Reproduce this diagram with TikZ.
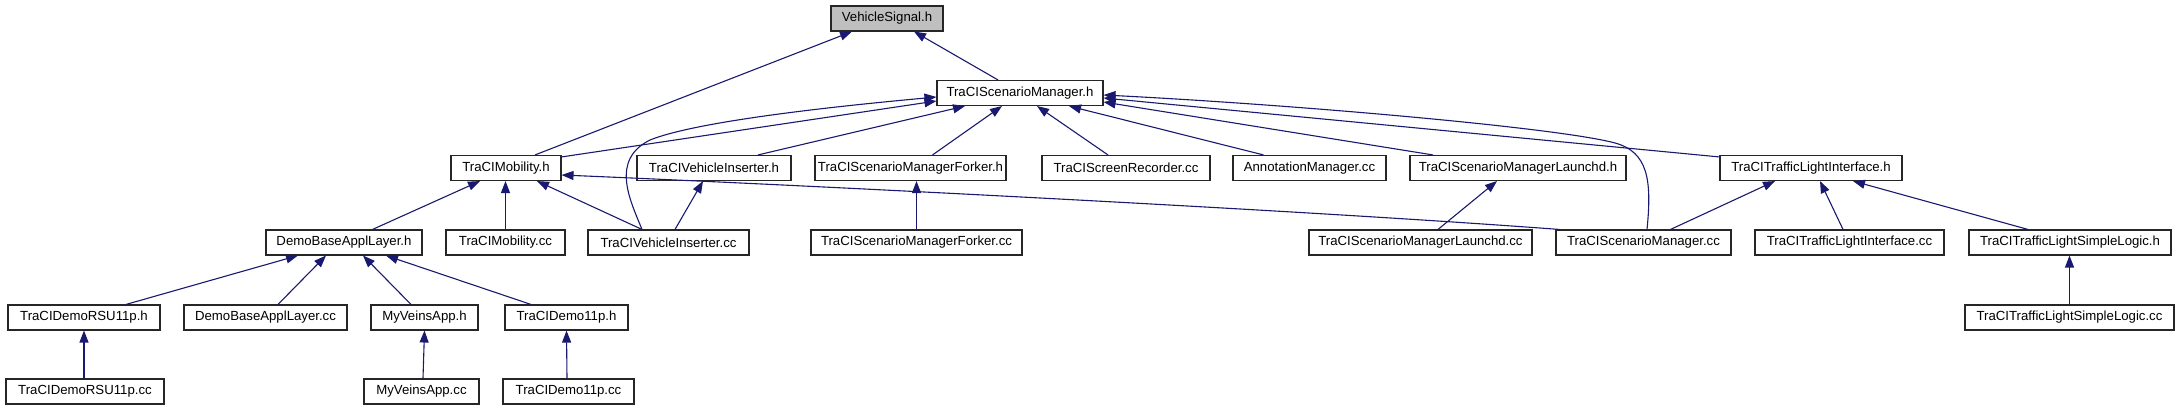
\documentclass[tikz,border=0pt]{standalone}
\usepackage{fontspec}
\setmainfont{Liberation Sans}
\usetikzlibrary{arrows.meta}
\definecolor{edgeblue}{HTML}{191970}
\definecolor{focusgray}{HTML}{BFBFBF}

\begin{document}
\begin{tikzpicture}[
  x=1pt,y=-1pt,
  filebox/.style={draw=black!85,line width=1.1pt,minimum height=25pt,inner sep=0pt,font=\fontsize{13.2}{15}\selectfont},
  focus/.style={filebox,fill=focusgray},
  dep/.style={-{Triangle[length=12pt,width=9pt]},draw=edgeblue,line width=1.1pt},
]
\useasboundingbox[fill=white] (0,0) rectangle (2180,411);

% row 1 and 2
\node[focus,minimum width=112pt] (vsig) at (887,18.5) {VehicleSignal.h};
\node[filebox,minimum width=166pt] (smh) at (1020,93) {TraCIScenarioManager.h};

% row 3
\node[filebox,minimum width=110pt] (mobh) at (506,168) {TraCIMobility.h};
\node[filebox,minimum width=154pt] (insh) at (714,168) {TraCIVehicleInserter.h};
\node[filebox,minimum width=191pt] (forkh) at (910.5,168) {TraCIScenarioManagerForker.h};
\node[filebox,minimum width=168pt] (scrrec) at (1126,168) {TraCIScreenRecorder.cc};
\node[filebox,minimum width=153pt] (annot) at (1309.5,168) {AnnotationManager.cc};
\node[filebox,minimum width=216pt] (lnchh) at (1518,168) {TraCIScenarioManagerLaunchd.h};
\node[filebox,minimum width=182pt] (tlih) at (1811,168) {TraCITrafficLightInterface.h};

% row 4
\node[filebox,minimum width=156pt] (dbalh) at (344,242.5) {DemoBaseApplLayer.h};
\node[filebox,minimum width=119pt] (mobcc) at (505.5,242.5) {TraCIMobility.cc};
\node[filebox,minimum width=161pt] (inscc) at (668.5,242.5) {TraCIVehicleInserter.cc};
\node[filebox,minimum width=211pt] (forkcc) at (916.5,242.5) {TraCIScenarioManagerForker.cc};
\node[filebox,minimum width=223pt] (lnchcc) at (1420.5,242.5) {TraCIScenarioManagerLaunchd.cc};
\node[filebox,minimum width=175pt] (smcc) at (1643.5,242.5) {TraCIScenarioManager.cc};
\node[filebox,minimum width=189pt] (tlicc) at (1849.5,242.5) {TraCITrafficLightInterface.cc};
\node[filebox,minimum width=202pt] (tlslh) at (2070,242.5) {TraCITrafficLightSimpleLogic.h};

% row 5
\node[filebox,minimum width=152pt] (rsuh) at (84,317.5) {TraCIDemoRSU11p.h};
\node[filebox,minimum width=163pt] (dbalcc) at (265.5,317.5) {DemoBaseApplLayer.cc};
\node[filebox,minimum width=107pt] (veinsh) at (424.5,317.5) {MyVeinsApp.h};
\node[filebox,minimum width=123pt] (demoh) at (566.5,317.5) {TraCIDemo11p.h};
\node[filebox,minimum width=209pt] (tlslcc) at (2069.5,317.5) {TraCITrafficLightSimpleLogic.cc};

% row 6
\node[filebox,minimum width=158pt] (rsucc) at (85,391.5) {TraCIDemoRSU11p.cc};
\node[filebox,minimum width=115pt] (veinscc) at (421.5,391.5) {MyVeinsApp.cc};
\node[filebox,minimum width=131pt] (democc) at (568.5,391.5) {TraCIDemo11p.cc};

% includes of VehicleSignal.h
\draw[dep] ([xshift=29pt]mobh.north) -- ([xshift=-35pt]vsig.south);
\draw[dep] ([xshift=-22pt]smh.north) -- ([xshift=27pt]vsig.south);

% includes of TraCIScenarioManager.h
\draw[dep] ([yshift=-2pt]mobh.north east) -- ([yshift=-8pt]smh.west);
\draw[dep] ([xshift=-26.5pt]inscc.north) .. controls (630,200) and (610,160) .. (650,140)
  .. controls (700,120) and (850,105) .. ([yshift=-4pt]smh.west);
\draw[dep] ([xshift=44pt]insh.north) -- ([xshift=-55pt]smh.south);
\draw[dep] ([xshift=22pt]forkh.north) -- ([xshift=-18pt]smh.south);
\draw[dep] ([xshift=-18pt]scrrec.north) -- ([xshift=17pt]smh.south);
\draw[dep] ([xshift=-46pt]annot.north) -- ([xshift=49pt]smh.south);
\draw[dep] ([xshift=-85pt]lnchh.north) -- ([yshift=-9pt]smh.east);
\draw[dep] ([yshift=-2pt]tlih.north west) -- ([yshift=-5pt]smh.east);
\draw[dep] ([xshift=3.5pt]smcc.north) .. controls (1652,180) and (1648,152) .. (1615,143)
  .. controls (1560,128) and (1300,105) .. ([yshift=-2pt]smh.east);

% includes of TraCIMobility.h
\draw[dep] ([xshift=28.5pt]dbalh.north) -- ([xshift=-26pt]mobh.south);
\draw[dep] (mobcc.north) -- (mobcc.north |- mobh.south);
\draw[dep] ([xshift=-26.5pt]inscc.north) -- ([xshift=31pt]mobh.south);
\draw[dep] ([xshift=4pt]smcc.north west) .. controls (1300,210) and (800,185) .. ([yshift=-7pt]mobh.east);

% second level headers
\draw[dep] ([xshift=6.5pt]inscc.north) -- ([xshift=-11pt]insh.south);
\draw[dep] (forkcc.north) -- (forkcc.north |- forkh.south);
\draw[dep] ([xshift=17.5pt]lnchcc.north) -- ([xshift=-21pt]lnchh.south);
\draw[dep] ([xshift=27pt]smcc.north) -- ([xshift=-36pt]tlih.south);
\draw[dep] ([xshift=-6.5pt]tlicc.north) -- ([xshift=9pt]tlih.south);
\draw[dep] ([xshift=-42pt]tlslh.north) -- ([xshift=42pt]tlih.south);
\draw[dep] (tlslcc.north) -- (tlslcc.north |- tlslh.south);

% DemoBaseApplLayer.h and below
\draw[dep] ([xshift=42pt]rsuh.north) -- ([xshift=-46pt]dbalh.south);
\draw[dep] ([xshift=12.5pt]dbalcc.north) -- ([xshift=-18pt]dbalh.south);
\draw[dep] ([xshift=-13.5pt]veinsh.north) -- ([xshift=19pt]dbalh.south);
\draw[dep] ([xshift=-35.5pt]demoh.north) -- ([xshift=42pt]dbalh.south);
\draw[dep] (rsuh.south |- rsucc.north) -- (rsuh.south);
\draw[dep] ([xshift=1.5pt]veinscc.north) -- (veinsh.south);
\draw[dep] ([xshift=-1.5pt]democc.north) -- (demoh.south);
\end{tikzpicture}
\end{document}
